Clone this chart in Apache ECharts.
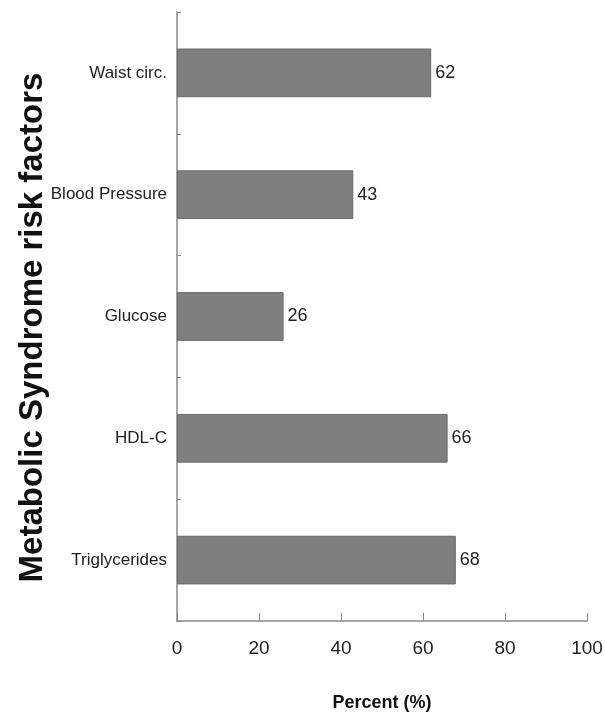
<!DOCTYPE html>
<html><head><meta charset="utf-8">
<script src="https://cdn.jsdelivr.net/npm/echarts@6/dist/echarts.min.js"></script>
<style>html,body{margin:0;padding:0;background:#fff}#c{width:605px;height:721px}</style>
</head><body><div id="c"></div>
<script>
var categories = ["Waist circ.", "Blood Pressure", "Glucose", "HDL-C", "Triglycerides"];
var percents = [62, 43, 26, 66, 68];
var xTicks = [0, 20, 40, 60, 80, 100];

var FONT = '"Liberation Sans", Arial, sans-serif';
var chart = echarts.init(document.getElementById('c'));
chart.setOption({
  animation: false,
  backgroundColor: '#fff',
  grid: { left: 177, right: 18, top: 12, bottom: 100, containLabel: false, outerBoundsMode: 'none' },
  xAxis: {
    type: 'value', min: xTicks[0], max: xTicks[xTicks.length - 1], interval: 20,
    name: 'Percent (%)', nameLocation: 'middle', nameGap: 73, nameMoveOverlap: false,
    nameTextStyle: { fontFamily: FONT, fontWeight: 'bold', fontSize: 18, color: '#111' },
    axisLine: { show: true, lineStyle: { color: '#888', width: 1.5 } },
    axisTick: { show: true, inside: true, length: 8, lineStyle: { color: '#888' } },
    axisLabel: { fontFamily: FONT, fontSize: 19, color: '#222', margin: 18 },
    splitLine: { show: false }
  },
  yAxis: {
    type: 'category', data: categories, inverse: true,
    name: 'Metabolic Syndrome risk factors', nameLocation: 'middle', nameGap: 128, nameRotate: 90, nameMoveOverlap: false,
    nameTextStyle: { fontFamily: FONT, fontWeight: 'bold', fontSize: 33, color: '#111', padding: [0, 22, 0, 0] },
    axisLine: { show: true, lineStyle: { color: '#888', width: 1.5 } },
    axisTick: { show: true, inside: true, length: 4, lineStyle: { color: '#888' } },
    axisLabel: { fontFamily: FONT, fontSize: 17, color: '#222', margin: 10 }
  },
  series: [{
    type: 'bar', data: percents, barWidth: '40%',
    itemStyle: { color: '#7f7f7f', borderColor: '#6a6a6a', borderWidth: 1 },
    label: { show: true, position: 'right', distance: 4, fontFamily: FONT, fontSize: 18, color: '#222' }
  }]
});
</script></body></html>
